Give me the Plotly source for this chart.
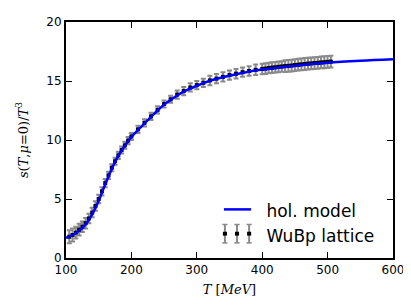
import plotly.graph_objects as go

# holographic model curve
model_T = [100, 110, 120, 130, 140, 150, 160, 170, 180, 190, 200, 210, 220, 230, 240,
           250, 260, 280, 300, 325, 350, 375, 400, 450, 500, 550, 600]
model_s = [1.70, 1.95, 2.30, 2.85, 3.70, 4.85, 6.25, 7.55, 8.65, 9.50, 10.25, 10.85, 11.40,
           11.95, 12.50, 13.00, 13.40, 14.10, 14.60, 15.10, 15.45, 15.75, 15.97, 16.30,
           16.55, 16.72, 16.85]

# WuBp lattice data
lat_T = [105, 110, 115, 120, 125, 130, 135, 140, 145, 150, 155, 160, 165, 170, 175, 180,
         185, 190, 195, 200,
         210, 220, 230, 240, 250, 260, 270, 280, 290, 300, 310, 320, 330, 340, 350, 360,
         370, 380, 390, 400,
         405, 410, 415, 420, 425, 430, 435, 440, 445, 450, 455, 460, 465, 470, 475, 480,
         485, 490, 495, 500, 505]
lat_s = [1.80, 1.95, 2.15, 2.40, 2.65, 2.95, 3.35, 3.85, 4.40, 5.00, 5.65, 6.35, 7.00,
         7.65, 8.20, 8.70, 9.15, 9.55, 9.95, 10.30,
         10.90, 11.45, 12.00, 12.55, 13.05, 13.45, 13.85, 14.15, 14.45, 14.65, 14.85, 15.05,
         15.20, 15.35, 15.50, 15.62, 15.75, 15.85, 15.95, 16.02,
         16.05, 16.10, 16.13, 16.16, 16.20, 16.23, 16.26, 16.28, 16.31, 16.35, 16.38, 16.41,
         16.44, 16.47, 16.49, 16.52, 16.54, 16.57, 16.59, 16.62, 16.64]
lat_err = [0.55, 0.55, 0.5, 0.5, 0.45, 0.45, 0.4, 0.4, 0.4, 0.35, 0.35, 0.35, 0.3, 0.3,
           0.3, 0.3, 0.3, 0.3, 0.3, 0.3,
           0.3, 0.3, 0.3, 0.3, 0.3, 0.3, 0.35, 0.35, 0.35, 0.35, 0.35, 0.4, 0.4, 0.4, 0.4,
           0.4, 0.4, 0.4, 0.45, 0.45,
           0.45, 0.45, 0.45, 0.45, 0.45, 0.45, 0.5, 0.5, 0.5, 0.5, 0.5, 0.5, 0.5, 0.5, 0.5,
           0.5, 0.5, 0.5, 0.5, 0.5, 0.5]

x_ticks = [100, 200, 300, 400, 500, 600]
y_ticks = [0, 5, 10, 15, 20]

fig = go.Figure()
fig.add_trace(go.Scatter(
    x=lat_T, y=lat_s, mode="markers", name="WuBp lattice", showlegend=False,
    marker=dict(symbol="square", size=4, color="black"),
    error_y=dict(type="data", array=lat_err, color="#8a8a8a", thickness=2, width=2.5),
))
fig.add_trace(go.Scatter(
    x=model_T, y=model_s, mode="lines", name="hol. model", showlegend=False,
    line=dict(color="#0000ff", width=2.5, shape="spline"),
))
# legend entries (their symbols are drawn below as shapes)
fig.add_trace(go.Scatter(
    x=[None], y=[None], mode="lines", name="hol. model",
    line=dict(color="rgba(0,0,0,0)", width=2.5),
))
fig.add_trace(go.Scatter(
    x=[None], y=[None], mode="markers", name="WuBp lattice",
    marker=dict(symbol="square", size=4, color="rgba(0,0,0,0)"),
))

axis_common = dict(
    showline=True, linecolor="black", linewidth=2, mirror="ticks",
    ticks="inside", ticklen=6, tickwidth=1.2, tickcolor="black",
    showgrid=False, zeroline=False,
    tickfont=dict(family="DejaVu Sans", size=12, color="black"),
)
fig.update_xaxes(range=[100, 600], tickvals=x_ticks, **axis_common,
                 title=dict(text="<i>T</i> [<i>MeV</i>]",
                            font=dict(family="DejaVu Serif", size=13, color="black"),
                            standoff=8))
fig.update_yaxes(range=[0, 20], tickvals=y_ticks, **axis_common,
                 title=dict(text="<i>s</i>(<i>T</i>,<i>μ</i>=0)/<i>T</i><sup>3</sup>",
                            font=dict(family="DejaVu Serif", size=13, color="black"),
                            standoff=15))

# legend symbols
shapes = [dict(type="line", xref="paper", yref="paper", x0=0.483, x1=0.566,
               y0=0.206, y1=0.206, line=dict(color="#0000ff", width=2.5))]
leg_x = [0.486, 0.523, 0.560]
leg_y = 0.103
for lx in leg_x:
    shapes.append(dict(type="line", xref="paper", yref="paper", x0=lx, x1=lx,
                       y0=leg_y - 0.039, y1=leg_y + 0.039,
                       line=dict(color="#8a8a8a", width=2)))
    shapes.append(dict(type="line", xref="paper", yref="paper", x0=lx - 0.008, x1=lx + 0.008,
                       y0=leg_y - 0.039, y1=leg_y - 0.039,
                       line=dict(color="#8a8a8a", width=1.5)))
    shapes.append(dict(type="line", xref="paper", yref="paper", x0=lx - 0.008, x1=lx + 0.008,
                       y0=leg_y + 0.039, y1=leg_y + 0.039,
                       line=dict(color="#8a8a8a", width=1.5)))
    shapes.append(dict(type="rect", xref="paper", yref="paper", x0=lx - 0.0062, x1=lx + 0.0062,
                       y0=leg_y - 0.0082, y1=leg_y + 0.0082,
                       fillcolor="black", line=dict(width=0)))

fig.update_layout(
    width=403, height=300,
    margin=dict(l=58, r=12, t=7, b=50),
    paper_bgcolor="white", plot_bgcolor="white",
    shapes=shapes,
    legend=dict(x=0.46, xanchor="left", y=0.276, yanchor="top",
                traceorder="normal", bgcolor="rgba(0,0,0,0)",
                font=dict(family="DejaVu Sans", size=17, color="black"),
                itemwidth=40, tracegroupgap=2),
)

fig.write_html("out.html")
